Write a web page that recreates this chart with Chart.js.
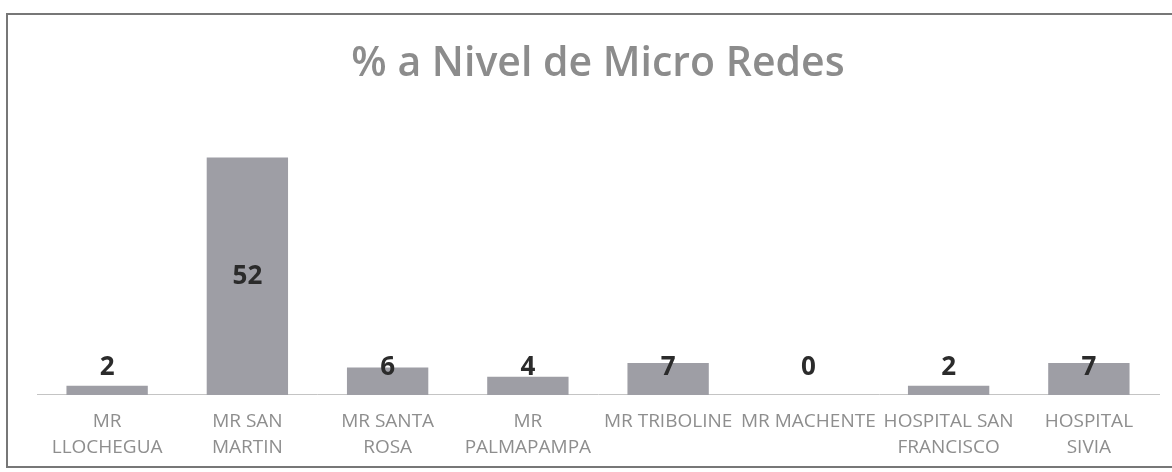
<!DOCTYPE html>
<html>
<head>
<meta charset="utf-8">
<script src="https://cdn.jsdelivr.net/npm/chart.js@4"></script>
<style>
    html, body { margin: 0; padding: 0; background: #fff; }
    #wrap { position: relative; width: 1172px; height: 472px; overflow: hidden; }
    #frame {
        position: absolute; left: 6px; top: 13px; width: 1200px; height: 455px;
        border: 2px solid #777; box-sizing: border-box;
    }
    canvas { position: absolute; left: 0; top: 0; }
</style>
</head>
<body>
<div id="wrap">
    <div id="frame"></div>
    <canvas id="chart" width="1172" height="472"></canvas>
</div>
<script>
// Data
const categories = [
    ["MR", "LLOCHEGUA"],
    ["MR SAN", "MARTIN"],
    ["MR SANTA", "ROSA"],
    ["MR", "PALMAPAMPA"],
    "MR TRIBOLINE",
    "MR MACHENTE",
    ["HOSPITAL SAN", "FRANCISCO"],
    ["HOSPITAL", "SIVIA"]
];
const percentages = [2, 52, 6, 4, 7, 0, 2, 7];
const chartTitle = "% a Nivel de Micro Redes";

// Value labels: centred in the bar, but kept above the axis for short bars
const valueLabels = {
    id: "valueLabels",
    afterDatasetsDraw(chart) {
        const ctx = chart.ctx;
        const meta = chart.getDatasetMeta(0);
        const base = chart.scales.y.getPixelForValue(0);
        ctx.save();
        ctx.font = "bold 26px 'Open Sans', sans-serif";
        ctx.fillStyle = "#2b2b2b";
        ctx.textAlign = "center";
        ctx.textBaseline = "middle";
        meta.data.forEach((bar, i) => {
            const y = Math.min((bar.y + base) / 2, base - 27);
            ctx.fillText(String(percentages[i]), bar.x, y);
        });
        ctx.restore();
    }
};

new Chart(document.getElementById("chart").getContext("2d"), {
    type: "bar",
    data: {
        labels: categories,
        datasets: [{
            data: percentages,
            backgroundColor: "#9e9ea5",
            borderWidth: 0,
            categoryPercentage: 1.0,
            barPercentage: 0.58
        }]
    },
    options: {
        responsive: false,
        animation: false,
        layout: { padding: { left: 37, right: 13, top: 0, bottom: -3 } },
        plugins: {
            legend: { display: false },
            tooltip: { enabled: false },
            title: {
                display: true,
                text: chartTitle,
                color: "#8c8c8c",
                font: { family: "'Open Sans', sans-serif", size: 41, weight: "600" },
                padding: { top: 40, bottom: 30 }
            }
        },
        scales: {
            x: {
                grid: { display: false, drawTicks: false },
                border: { display: true, color: "#c4c4c4", width: 1 },
                ticks: {
                    color: "#8e8e8e",
                    font: { family: "'Open Sans', sans-serif", size: 19, lineHeight: 1.37 },
                    padding: 14,
                    maxRotation: 0,
                    autoSkip: false
                }
            },
            y: {
                display: false,
                min: 0,
                max: 60.4
            }
        }
    },
    plugins: [valueLabels]
});
</script>
</body>
</html>
